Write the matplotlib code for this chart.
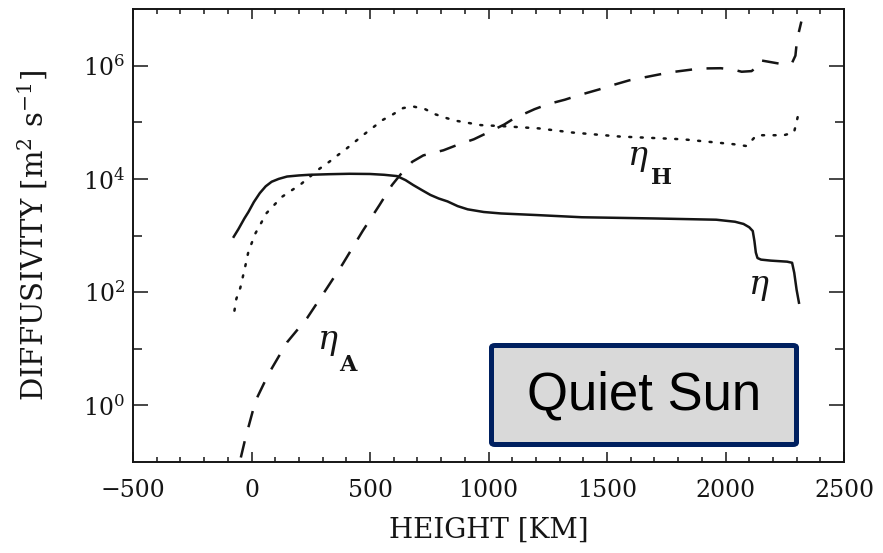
import matplotlib
matplotlib.use('Agg')
import matplotlib.pyplot as plt
from matplotlib.ticker import FixedLocator, FixedFormatter, NullFormatter, MultipleLocator
from matplotlib.patches import FancyBboxPatch

plt.rcParams['font.family'] = ['DejaVu Serif']
plt.rcParams['mathtext.fontset'] = 'dejavuserif'

# eta (ohmic diffusivity), solid
eta_h = [-75, -55, -30, -13, 10, 35, 60, 85, 115, 150, 200, 243, 330, 413, 500,
         560, 614, 650, 682, 720, 755, 790, 827, 870, 912, 980, 1053, 1200, 1394,
         1700, 1961, 2040, 2076, 2100, 2115, 2122, 2128, 2135, 2150, 2191, 2260,
         2281, 2290, 2300, 2310]
eta_v = [9.5e2, 1.3e3, 2.0e3, 2.6e3, 3.9e3, 5.6e3, 7.4e3, 8.9e3, 1.0e4, 1.1e4,
         1.15e4, 1.18e4, 1.21e4, 1.23e4, 1.22e4, 1.18e4, 1.12e4, 9.5e3, 7.8e3,
         6.3e3, 5.2e3, 4.5e3, 4.0e3, 3.3e3, 2.9e3, 2.6e3, 2.45e3, 2.3e3, 2.1e3,
         2.0e3, 1.9e3, 1.75e3, 1.6e3, 1.4e3, 1.2e3, 8.0e2, 5.0e2, 4.0e2, 3.75e2,
         3.6e2, 3.45e2, 3.3e2, 2.2e2, 1.1e2, 6.5e1]

# eta_H (Hall), dotted
etaH_h = [-72, -64, -47, -26, -13, 17, 64, 128, 209, 286, 328, 363, 400, 477, 554,
          597, 640, 682, 733, 776, 827, 870, 968, 1066, 1211, 1351, 1552, 1820,
          2033, 2089, 2131, 2246, 2289, 2302, 2310]
etaH_v = [4.7e1, 7.6e1, 1.2e2, 2.9e2, 5.2e2, 1.1e3, 2.5e3, 4.8e3, 8.1e3, 1.5e4,
          2.0e4, 2.6e4, 3.4e4, 6.2e4, 1.1e5, 1.38e5, 1.78e5, 1.9e5, 1.7e5, 1.38e5,
          1.17e5, 1.05e5, 8.9e4, 8.5e4, 7.8e4, 6.6e4, 5.6e4, 5.0e4, 4.1e4, 3.8e4,
          5.9e4, 5.9e4, 6.6e4, 1.1e5, 1.6e5]

# eta_A (ambipolar), dashed
etaA_h = [-45, -26, 17, 72, 150, 235, 315, 384, 469, 541, 593, 627, 678, 725, 810,
          870, 938, 998, 1066, 1108, 1194, 1253, 1322, 1381, 1467, 1522, 1594, 1765,
          1893, 1980, 2033, 2068, 2110, 2127, 2131, 2153, 2246, 2280, 2295, 2302,
          2320]
etaA_v = [1.2e-1, 2.6e-1, 1.2e0, 3.6e0, 1.3e1, 3.5e1, 1.12e2, 3.1e2, 1.2e3, 3.5e3,
          7.8e3, 1.17e4, 2.0e4, 2.6e4, 3.2e4, 4.0e4, 5.0e4, 6.6e4, 9.1e4, 1.17e5,
          1.7e5, 2.1e5, 2.5e5, 3.0e5, 3.8e5, 4.5e5, 5.5e5, 7.6e5, 8.9e5, 9.0e5,
          8.5e5, 7.8e5, 8.0e5, 9.1e5, 1.17e6, 1.23e6, 1.05e6, 1.1e6, 1.5e6, 2.9e6,
          6.0e6]

y_major = [1e0, 1e2, 1e4, 1e6]
y_major_labels = ['$10^{0}$', '$10^{2}$', '$10^{4}$', '$10^{6}$']
y_minor = [1e1, 1e3, 1e5]

fig = plt.figure(figsize=(8.83, 5.53), dpi=100)
ax = fig.add_axes([133 / 883, 1 - 462 / 553, 711 / 883, 453 / 553])

ink = '#151515'
ax.plot(eta_h, eta_v, color=ink, lw=1.8)
ax.plot(etaH_h, etaH_v, color=ink, lw=1.8, linestyle=(0, (0.8, 3.8)),
        dash_capstyle='round')
ax.plot(etaA_h, etaA_v, color=ink, lw=1.8, linestyle=(0, (6.7, 5.8)))

ax.set_yscale('log')
ax.set_xlim(-500, 2500)
ax.set_ylim(1e-1, 1e7)

ax.xaxis.set_major_locator(MultipleLocator(500))
ax.xaxis.set_minor_locator(MultipleLocator(100))
ax.yaxis.set_major_locator(FixedLocator(y_major))
ax.yaxis.set_major_formatter(FixedFormatter(y_major_labels))
ax.yaxis.set_minor_locator(FixedLocator(y_minor))
ax.yaxis.set_minor_formatter(NullFormatter())

ax.tick_params(axis='both', which='both', direction='in', top=True, right=True,
               colors=ink, width=1.1)
ax.tick_params(axis='x', which='major', length=7.5, pad=12, labelsize=17)
ax.tick_params(axis='x', which='minor', length=3.5)
ax.tick_params(axis='y', which='major', length=11, pad=6, labelsize=17)
ax.tick_params(axis='y', which='minor', length=6.5)
for s in ax.spines.values():
    s.set_linewidth(1.4)
    s.set_color(ink)

ax.set_xlabel('HEIGHT [KM]', fontsize=20, color=ink)
ax.xaxis.set_label_coords(0.5, -0.121)
ax.set_ylabel('DIFFUSIVITY [m$^2$ s$^{-1}$]', fontsize=21, color=ink)
ax.yaxis.set_label_coords(-0.117, 0.5)

# curve labels (symbol + bold subscript)
ax.text(2097, 92, r'$\eta$', fontsize=24, color=ink, ha='left', va='baseline')
ax.text(1586, 1.76e4, r'$\eta$', fontsize=24, color=ink, ha='left', va='baseline')
ax.text(1684, 8.2e3, 'H', fontsize=16, fontweight='bold', color=ink,
        ha='left', va='baseline')
ax.text(277, 10, r'$\eta$', fontsize=24, color=ink, ha='left', va='baseline')
ax.text(371, 4.1, 'A', fontsize=16, fontweight='bold', color=ink,
        ha='left', va='baseline')

# "Quiet Sun" box
box = FancyBboxPatch((491.5 / 883, 1 - 444.5 / 553), 305 / 883, 99 / 553,
                     boxstyle='round,pad=0,rounding_size=0.004',
                     transform=fig.transFigure, facecolor='#d9d9d9',
                     edgecolor='#002060', lw=3.6, zorder=5)
fig.patches.append(box)
fig.text(644 / 883, 1 - 395 / 553, 'Quiet Sun', fontsize=38, color='black',
         family=['Liberation Sans'], ha='center', va='center', zorder=6)

fig.savefig('out.png', dpi=100)
